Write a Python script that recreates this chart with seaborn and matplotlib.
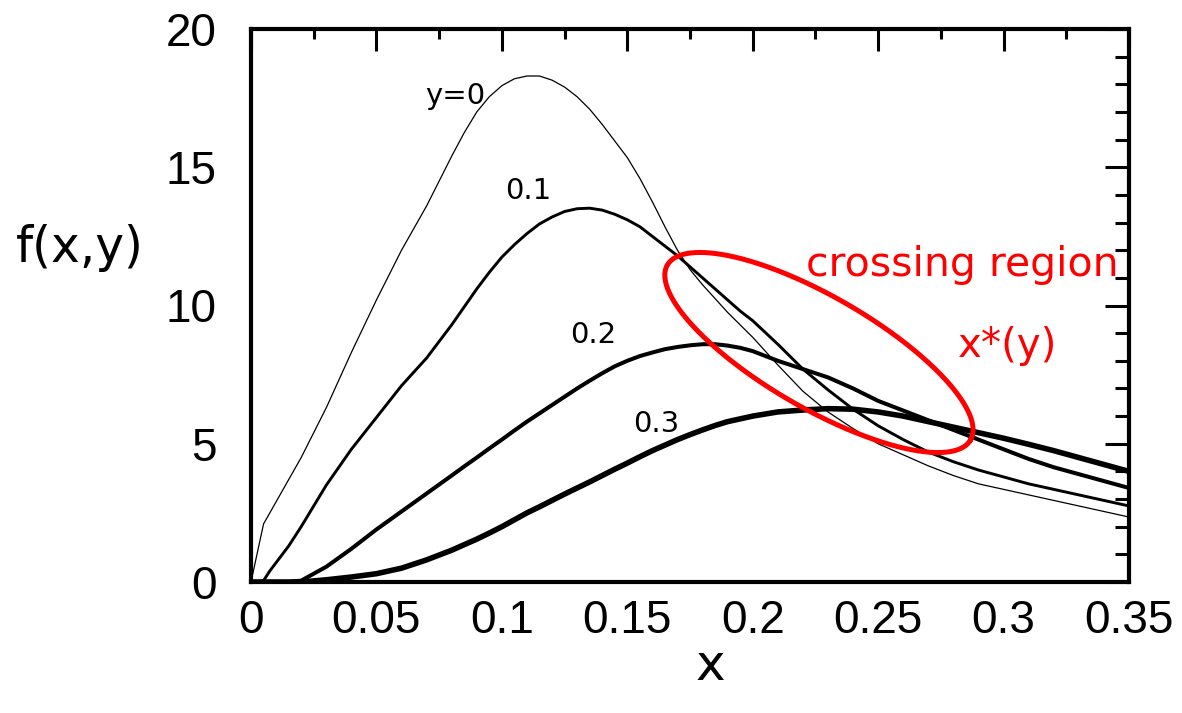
import numpy as np
import pandas as pd
import matplotlib
matplotlib.use("Agg")
import matplotlib.pyplot as plt
import seaborn as sns

# ---------------- data ----------------
x_vals = [0.0, 0.0025, 0.005, 0.0075, 0.01, 0.015, 0.02,
          0.03, 0.04, 0.05, 0.06, 0.07, 0.08, 0.085, 0.09, 0.095,
          0.10, 0.105, 0.11, 0.115, 0.12, 0.125, 0.13, 0.135, 0.14, 0.145,
          0.15, 0.155, 0.16, 0.165, 0.17, 0.175, 0.18, 0.185, 0.19, 0.195,
          0.20, 0.21, 0.22, 0.23, 0.24, 0.25, 0.26, 0.27, 0.28, 0.29,
          0.30, 0.31, 0.32, 0.33, 0.34, 0.35]

f_y0 = [0.0, 1.05, 2.1, 2.5, 2.9, 3.7, 4.5,
        6.3, 8.3, 10.2, 12.0, 13.6, 15.4, 16.25, 17.0, 17.55,
        17.95, 18.2, 18.3, 18.3, 18.15, 17.9, 17.55, 17.1, 16.55, 15.95,
        15.35, 14.6, 13.75, 12.85, 12.0, 11.3, 10.75, 10.25, 9.75, 9.3,
        8.85, 7.85, 6.9, 6.15, 5.55, 5.0, 4.6, 4.2, 3.85, 3.55,
        3.35, 3.15, 2.95, 2.75, 2.55, 2.35]

f_y1 = [0.0, 0.0, 0.05, 0.4, 0.7, 1.3, 2.0,
        3.5, 4.8, 5.95, 7.1, 8.1, 9.3, 9.95, 10.6, 11.2,
        11.75, 12.2, 12.6, 12.95, 13.2, 13.4, 13.5, 13.52, 13.45, 13.3,
        13.1, 12.85, 12.5, 12.15, 11.8, 11.4, 11.0, 10.6, 10.2, 9.8,
        9.45, 8.6, 7.7, 6.95, 6.25, 5.65, 5.15, 4.7, 4.35, 4.05,
        3.8, 3.55, 3.35, 3.15, 2.95, 2.75]

f_y2 = [0.0, 0.0, 0.0, 0.0, 0.0, 0.0, 0.05,
        0.55, 1.2, 1.9, 2.55, 3.2, 3.85, 4.18, 4.5, 4.83,
        5.15, 5.48, 5.8, 6.1, 6.4, 6.7, 7.0, 7.28, 7.55, 7.8,
        8.0, 8.17, 8.3, 8.42, 8.5, 8.56, 8.6, 8.6, 8.55, 8.47,
        8.35, 8.0, 7.7, 7.4, 7.0, 6.55, 6.2, 5.85, 5.5, 5.15,
        4.8, 4.45, 4.15, 3.9, 3.65, 3.4]

f_y3 = [0.0, 0.0, 0.0, 0.0, 0.0, 0.0, 0.0,
        0.08, 0.18, 0.3, 0.5, 0.8, 1.15, 1.35, 1.55, 1.77,
        2.0, 2.25, 2.5, 2.72, 2.95, 3.18, 3.4, 3.62, 3.85, 4.08,
        4.3, 4.53, 4.75, 4.95, 5.15, 5.33, 5.5, 5.66, 5.8, 5.9,
        6.0, 6.15, 6.22, 6.27, 6.25, 6.15, 6.0, 5.8, 5.6, 5.4,
        5.2, 4.98, 4.75, 4.5, 4.25, 4.0]

series_names = ["y=0", "0.1", "0.2", "0.3"]
series_values = [f_y0, f_y1, f_y2, f_y3]
line_widths = [0.9, 2.1, 2.9, 4.0]

x_ticks = [0, 0.05, 0.1, 0.15, 0.2, 0.25, 0.3, 0.35]
x_tick_labels = ["0", "0.05", "0.1", "0.15", "0.2", "0.25", "0.3", "0.35"]
y_ticks = [0, 5, 10, 15, 20]
y_tick_labels = ["0", "5", "10", "15", "20"]

# curve labels (text, x, y baseline)
curve_labels = [("y=0", 0.0694, 17.3), ("0.1", 0.1013, 13.86),
                ("0.2", 0.1272, 8.63), ("0.3", 0.1523, 5.42)]

# ---------------- figure ----------------
sns.set_style("white")
plt.rcParams["font.family"] = ["DejaVu Sans"]
plt.rcParams["text.color"] = "black"
plt.rcParams["axes.labelcolor"] = "black"
plt.rcParams["xtick.color"] = "black"
plt.rcParams["ytick.color"] = "black"

W, H, DPI = 11.82, 7.13, 100
fig = plt.figure(figsize=(W, H), dpi=DPI)
ax_left, ax_bottom, ax_w, ax_h = 251 / 1182, (713 - 582) / 713, 878 / 1182, 553 / 713
ax = fig.add_axes([ax_left, ax_bottom, ax_w, ax_h])

df = pd.DataFrame({
    "x": np.tile(x_vals, len(series_names)),
    "f": np.concatenate(series_values),
    "series": np.repeat(series_names, len(x_vals)),
})

for name, lw in zip(series_names, line_widths):
    sns.lineplot(data=df[df["series"] == name], x="x", y="f", ax=ax,
                 color="black", linewidth=lw, legend=False,
                 solid_joinstyle="round", solid_capstyle="butt")

ax.set_xlim(0, 0.35)
ax.set_ylim(0, 20)

ax.set_xticks(x_ticks)
ax.set_xticklabels(x_tick_labels)
ax.set_yticks(y_ticks)
ax.set_yticklabels(y_tick_labels)
ax.set_xticks(np.arange(0.025, 0.35, 0.05), minor=True)
ax.set_yticks([v for v in range(0, 21) if v % 5 != 0], minor=True)

for lab in ax.get_xticklabels() + ax.get_yticklabels():
    lab.set_fontfamily("Liberation Sans")
    lab.set_fontsize(33)
    lab.set_color("black")

ax.tick_params(which="both", direction="in", top=True, right=True,
               width=2.2, color="black", labelcolor="black")
ax.xaxis.set_tick_params(which="major", length=16, pad=12)
ax.xaxis.set_tick_params(which="minor", length=7)
ax.yaxis.set_tick_params(which="major", length=17, pad=25)
ax.yaxis.set_tick_params(which="minor", length=10)

for sp in ax.spines.values():
    sp.set_linewidth(3.0)
    sp.set_color("black")
    sp.set_visible(True)

ax.set_xlabel("x", fontsize=36, va="baseline", color="black")
ax.xaxis.set_label_coords((710 - 251) / 878, (582 - 680) / 553)
ax.set_ylabel("f(x,y)", fontsize=35, rotation=0, ha="center", va="baseline",
              color="black")
ax.yaxis.set_label_coords((80 - 251) / 878, (582 - 262) / 553)

for txt, tx, ty in curve_labels:
    ax.text(tx, ty, txt, fontsize=21, color="black", ha="left", va="baseline")

# red annotations
ax.text(0.2212, 11.08, "crossing region", fontsize=29.5, color="red",
        ha="left", va="baseline", clip_on=False)
ax.text(0.2818, 8.12, "x*(y)", fontsize=29, color="red",
        ha="left", va="baseline")

# ellipse (tilted), defined in pixel-like units and mapped to data
cx, cy = 0.2264, 8.30          # centre in data units
a_px, b_px, theta = 175, 56, np.deg2rad(30)
px_per_x = (ax_w * W * DPI) / 0.35
px_per_y = (ax_h * H * DPI) / 20
t = np.linspace(0, 2 * np.pi, 400)
dx = a_px * np.cos(t) * np.cos(theta) - b_px * np.sin(t) * np.sin(theta)
dy_down = a_px * np.cos(t) * np.sin(theta) + b_px * np.sin(t) * np.cos(theta)
ax.plot(cx + dx / px_per_x, cy - dy_down / px_per_y, color="red",
        linewidth=3.6, clip_on=False)

ax.set_facecolor("white")
fig.patch.set_facecolor("white")
fig.savefig("out.png", dpi=DPI, facecolor="white")
